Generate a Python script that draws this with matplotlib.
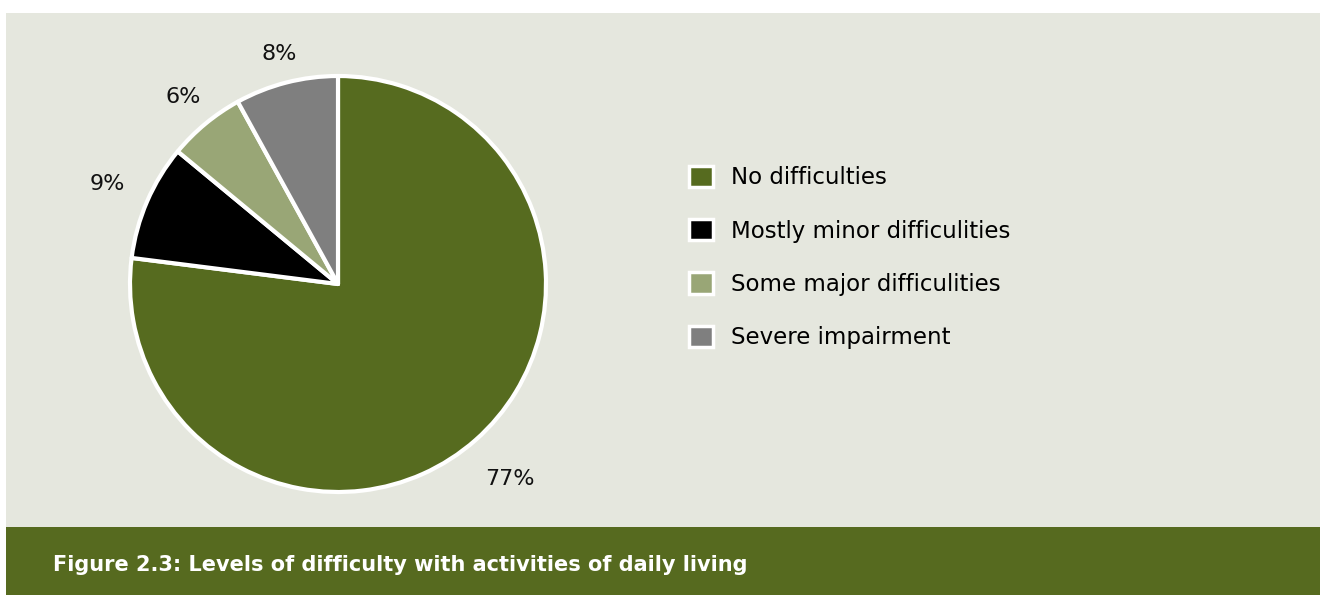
import matplotlib
matplotlib.use("Agg")
import numpy as np
import matplotlib.pyplot as plt
from matplotlib.patches import Rectangle

# --- data ---
categories = ["No difficulties", "Mostly minor difficulities",
              "Some major difficulities", "Severe impairment"]
shares = [77, 9, 6, 8]
colors = ["#566b1f", "#000000", "#99a676", "#7f7f7f"]
title = "Figure 2.3: Levels of difficulty with activities of daily living"

# radial distance of each percentage label (in pie radii), like "outside end" labels
label_dist = [1.25, 1.21, 1.165, 1.14]

PANEL = "#e5e7de"
BAND = "#566a1f"
W, H = 1320, 595

plt.rcParams["font.family"] = ["DejaVu Sans"]

fig = plt.figure(figsize=(W / 100, H / 100), dpi=100, facecolor="white")

# background panel and title band (pixel coords -> figure fractions)
def px_rect(x0, y0, x1, y1, color):
    fig.patches.append(Rectangle((x0 / W, 1 - y1 / H), (x1 - x0) / W, (y1 - y0) / H,
                                 transform=fig.transFigure, facecolor=color,
                                 edgecolor="none", zorder=-5))

px_rect(6, 13, W, 527, PANEL)
px_rect(6, 527, W, H, BAND)

fig.text(53 / W, 1 - 565 / H, title, color="white", fontsize=15, fontweight="bold",
         va="center", ha="left")

# --- pie ---
cx, cy, r = 338, 284, 208
ax = fig.add_axes([(cx - r) / W, 1 - (cy + r) / H, 2 * r / W, 2 * r / H])
ax.set_facecolor("none")
wedges, _ = ax.pie(shares, colors=colors, startangle=90, counterclock=False,
                   wedgeprops=dict(edgecolor="white", linewidth=3, joinstyle="round"))
for w, v, d in zip(wedges, shares, label_dist):
    mid = np.deg2rad((w.theta1 + w.theta2) / 2)
    ax.text(d * np.cos(mid), d * np.sin(mid), f"{v}%", ha="center", va="center",
            fontsize=16, color="#111111")
ax.set_xlim(-1.0, 1.0)
ax.set_ylim(-1.0, 1.0)
ax.set_aspect("equal")

# --- legend ---
leg = fig.legend(wedges, categories, loc="upper left",
                 bbox_to_anchor=(689 / W, 1 - 166 / H), frameon=False,
                 fontsize=16.5, handlelength=1.05, handleheight=1.05,
                 handletextpad=0.8, labelspacing=1.3, borderpad=0,
                 borderaxespad=0)
for h in leg.legend_handles:
    h.set_edgecolor("white")
    h.set_linewidth(2.5)

fig.savefig("out.png", dpi=100, facecolor="white")
